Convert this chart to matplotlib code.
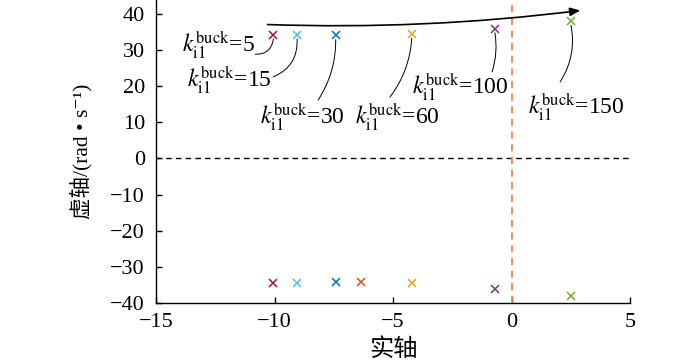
import matplotlib
matplotlib.use("Agg")
import matplotlib.pyplot as plt

plt.rcParams["font.family"] = ["Liberation Serif", "Noto Sans CJK SC", "DejaVu Serif"]
plt.rcParams["mathtext.fontset"] = "stix"
plt.rcParams["axes.unicode_minus"] = True

# ---------- data ----------
k_values = [5, 15, 30, 60, 100, 150]
upper_re = [-10.05, -9.05, -7.42, -4.21, -0.70, 2.51]
upper_im = [34.3, 34.3, 34.1, 34.5, 36.0, 38.1]
upper_colors = ["#A2142F", "#4DBEEE", "#0072BD", "#EDA020", "#7E2F8E", "#77AC30"]

lower_re = [-10.05, -9.05, -7.42, -6.35, -4.21, -0.70, 2.51]
lower_im = [-34.4, -34.4, -34.1, -34.1, -34.6, -36.1, -38.1]
lower_colors = ["#A2142F", "#4DBEEE", "#0072BD", "#D95319", "#EDA020", "#7E2F8E", "#77AC30"]

# label text anchors (left, centre) and leader-line tails
label_x = [-13.9, -13.7, -10.6, -6.6, -4.2, 0.7]
label_y = [31.3, 21.7, 11.4, 11.4, 19.8, 14.2]
tail_x = [-10.82, -10.06, -8.16, -5.13, -0.82, 2.05]
tail_y = [28.9, 22.6, 16.2, 17.0, 24.0, 21.2]
leader_rad = [0.45, 0.35, 0.15, 0.15, 0.12, 0.2]

arrow_start = (-10.3, 37.1)
arrow_end = (2.9, 41.0)

x_ticks = [-15, -10, -5, 0, 5]
y_ticks = [-40, -30, -20, -10, 0, 10, 20, 30, 40]
# -----------------------------------------------

fig = plt.figure(figsize=(7.0, 3.64), dpi=100)
ax = fig.add_axes([0.223, 0.168, 0.677, 0.832])

ax.axhline(0, color="black", linestyle=(0, (4, 3)), linewidth=1.0)
ax.axvline(0, color="#EE8650", linestyle=(0, (4, 3)), linewidth=1.3)

for xr, yi, c in zip(upper_re, upper_im, upper_colors):
    ax.plot(xr, yi, marker="x", color=c, markersize=6, markeredgewidth=1.1, linestyle="none")
for xr, yi, c in zip(lower_re, lower_im, lower_colors):
    ax.plot(xr, yi, marker="x", color=c, markersize=6, markeredgewidth=1.1, linestyle="none")

for k, lx, ly, tx, ty, px, py, r in zip(k_values, label_x, label_y, tail_x, tail_y,
                                        upper_re, upper_im, leader_rad):
    ax.text(lx, ly, r"$k_{\mathrm{i1}}^{\mathrm{buck}}$=" + str(k),
            fontsize=17, ha="left", va="center")
    ax.annotate("", xy=(px, py - 1.2), xytext=(tx, ty),
                arrowprops=dict(arrowstyle="-", color="black", lw=0.7,
                                connectionstyle=f"arc3,rad={r}",
                                shrinkA=0, shrinkB=0))

ax.annotate("", xy=arrow_end, xytext=arrow_start,
            arrowprops=dict(arrowstyle="-|>,head_length=0.6,head_width=0.25",
                            color="black", lw=1.2,
                            connectionstyle="arc3,rad=0.04",
                            shrinkA=0, shrinkB=0))

ax.set_xlim(-15, 5)
ax.set_ylim(-40, 43.9)
ax.set_xticks(x_ticks)
ax.set_yticks(y_ticks)
ax.tick_params(direction="in", length=4, width=1, labelsize=16)
ax.tick_params(axis="x", pad=7)
ax.tick_params(axis="y", pad=8)
for s in ["top", "right"]:
    ax.spines[s].set_visible(False)
for s in ["left", "bottom"]:
    ax.spines[s].set_linewidth(1.0)

ax.set_xlabel("实轴", fontsize=17.5, labelpad=5)
ax.set_ylabel("虚轴/(rad • s⁻¹)", fontsize=15.5, labelpad=13)

fig.savefig("out.png", dpi=100)
